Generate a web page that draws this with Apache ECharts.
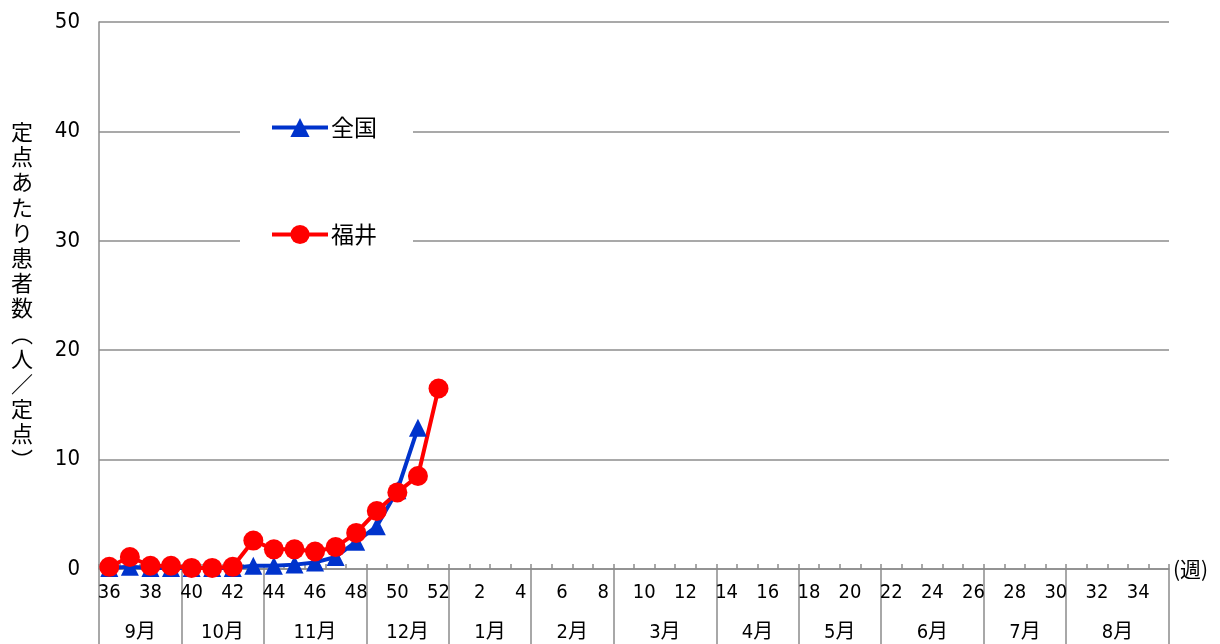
<!DOCTYPE html>
<html><head><meta charset="utf-8">
<script src="https://cdn.jsdelivr.net/npm/echarts@6/dist/echarts.min.js"></script>
<style>html,body{margin:0;padding:0;background:#fff}#c{width:1220px;height:644px}</style>
</head><body><div id="c"></div>
<script>
var weeks = ['36','37','38','39','40','41','42','43','44','45','46','47','48','49','50','51','52',
  '1','2','3','4','5','6','7','8','9','10','11','12','13','14','15','16','17','18','19','20',
  '21','22','23','24','25','26','27','28','29','30','31','32','33','34','35'];
var zenkoku = [0.1,0.2,0.1,0.1,0.1,0.1,0.1,0.3,0.3,0.4,0.6,1.1,2.5,3.9,7.2,12.9];
var fukui = [0.2,1.1,0.3,0.3,0.1,0.1,0.2,2.6,1.8,1.8,1.6,2.0,3.3,5.3,7.0,8.5,16.5];
var months = ['9月','10月','11月','12月','1月','2月','3月','4月','5月','6月','7月','8月'];
var monthWeeks = [4,4,5,4,4,4,5,4,4,5,4,5];
var yTicks = [0,10,20,30,40,50];

// build half-week category axis for month row
var boundaries = {}, centers = {};
var acc = 0;
boundaries[0] = true;
monthWeeks.forEach(function(n, i){
  centers[acc*2 + n] = months[i];
  acc += n;
  boundaries[acc*2] = true;
});
var halfCats = [];
for (var h = 0; h <= weeks.length*2; h++) halfCats.push(centers[h] || '');

var numFont = "'DejaVu Sans Condensed','Noto Sans CJK JP',sans-serif";
var jpFont = "'Noto Sans CJK JP',sans-serif";
var gray = '#8c8c8c';
var yName = '定点あたり患者数︵人／定点︶'.split('').join('\n');

var chart = echarts.init(document.getElementById('c'));
chart.setOption({
  animation: false,
  grid: {left: 99, right: 51, top: 22, bottom: 75},
  legend: {
    orient: 'vertical', left: 240, top: 106,
    padding: [10, 36, 10, 30],
    backgroundColor: '#fff',
    itemGap: 84, itemWidth: 56, itemHeight: 24,
    lineStyle: {width: 4},
    textStyle: {fontSize: 23, fontFamily: jpFont, color: '#000', padding: [0,0,0,-2]},
    data: ['全国','福井']
  },
  xAxis: [{
    type: 'category', data: weeks, boundaryGap: true,
    axisLine: {lineStyle: {color: gray, width: 1.5}},
    axisTick: {show: true, interval: 0, inside: true, length: 5, lineStyle: {color: gray, width: 1.5}},
    axisLabel: {interval: 1, margin: 14, fontSize: 20, color: '#000', fontFamily: numFont},
    name: '(週)', nameLocation: 'end', nameGap: 4,
    nameTextStyle: {fontSize: 21, color: '#000', fontFamily: jpFont, padding: [48,0,0,0]}
  }, {
    type: 'category', data: halfCats, boundaryGap: false, position: 'bottom',
    axisLine: {show: false},
    axisTick: {show: true, length: 75, inside: false,
      interval: function(i){ return !!boundaries[i]; },
      lineStyle: {color: gray, width: 1.5}},
    axisLabel: {margin: 54, fontSize: 20, color: '#000', fontFamily: numFont,
      interval: function(i){ return halfCats[i] !== ''; }},
    splitLine: {show: false}
  }],
  yAxis: {
    type: 'value', min: yTicks[0], max: yTicks[yTicks.length-1], interval: 10,
    axisLine: {show: true, lineStyle: {color: gray, width: 1.5}},
    axisTick: {show: false},
    axisLabel: {margin: 19, fontSize: 22, color: '#000', fontFamily: numFont, padding: [4,0,0,0]},
    splitLine: {lineStyle: {color: gray, width: 1.5}},
    name: yName, nameLocation: 'middle', nameRotate: 0, nameGap: 77,
    nameTextStyle: {fontSize: 22, lineHeight: 25.2, color: '#000', fontFamily: jpFont,
      align: 'center', verticalAlign: 'middle', padding: [16,0,0,0]}
  },
  series: [{
    name: '全国', type: 'line', data: zenkoku, xAxisIndex: 0,
    symbol: 'triangle', symbolSize: 18, showAllSymbol: true,
    lineStyle: {color: '#0033cc', width: 4},
    itemStyle: {color: '#0033cc'}
  }, {
    name: '福井', type: 'line', data: fukui, xAxisIndex: 0,
    symbol: 'circle', symbolSize: 20, showAllSymbol: true,
    lineStyle: {color: '#ff0000', width: 4},
    itemStyle: {color: '#ff0000'}
  }]
});
</script></body></html>
